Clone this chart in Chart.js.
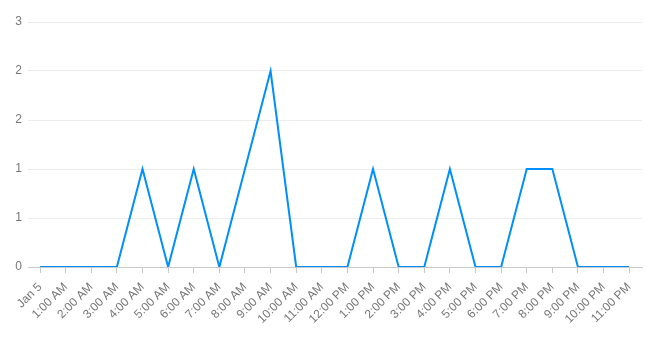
<!DOCTYPE html>
<html>
<head>
<meta charset="utf-8">
<script src="https://cdn.jsdelivr.net/npm/chart.js@4"></script>
<style>
  html, body { margin: 0; padding: 0; background: #fff; }
  #wrap { width: 647px; height: 348px; }
</style>
</head>
<body>
<div id="wrap"><canvas id="myChart"></canvas></div>
<script>
const hours = ['Jan 5', '1:00 AM', '2:00 AM', '3:00 AM', '4:00 AM', '5:00 AM', '6:00 AM', '7:00 AM',
  '8:00 AM', '9:00 AM', '10:00 AM', '11:00 AM', '12:00 PM', '1:00 PM', '2:00 PM', '3:00 PM',
  '4:00 PM', '5:00 PM', '6:00 PM', '7:00 PM', '8:00 PM', '9:00 PM', '10:00 PM', '11:00 PM'];
const counts = [0, 0, 0, 0, 1, 0, 1, 0, 1, 2, 0, 0, 0, 1, 0, 0, 1, 0, 0, 1, 1, 0, 0, 0];
const yTicks = [0, 0.5, 1, 1.5, 2, 2.5];

function renderChart() {
  const ctx = document.getElementById('myChart');
  let points = [];
  for (let i = 0; i < hours.length; i++) {
    points.push({ x: i, y: counts[i] });
  }
  const font = { family: 'Liberation Sans, Arial, sans-serif', size: 12 };
  new Chart(ctx, {
    type: 'line',
    data: {
      datasets: [{
        label: 'Count',
        data: points,
        borderColor: '#008FFB',
        borderWidth: 2,
        pointRadius: 0,
        tension: 0,
        fill: false
      }]
    },
    options: {
      animation: false,
      responsive: true,
      maintainAspectRatio: false,
      layout: { padding: { top: 22, right: 5, bottom: 0, left: 0 } },
      plugins: { legend: { display: false }, tooltip: { enabled: false } },
      scales: {
        x: {
          type: 'linear',
          min: -0.47,
          max: 23.5,
          afterFit: s => { s.height = 81; },
          afterBuildTicks: s => { s.ticks = hours.map((h, i) => ({ value: i })); },
          border: { color: '#c8c8c8' },
          grid: { drawOnChartArea: false, drawTicks: true, tickLength: 6, color: '#c8c8c8' },
          ticks: {
            autoSkip: false,
            maxRotation: 45,
            minRotation: 45,
            padding: 7,
            color: '#777',
            font: font,
            callback: v => hours[v]
          }
        },
        y: {
          min: 0,
          max: 2.5,
          afterFit: s => { s.width = 28; },
          afterBuildTicks: s => { s.ticks = yTicks.map(v => ({ value: v })); },
          border: { display: false },
          grid: { color: '#ececec', drawTicks: false },
          ticks: {
            padding: 6,
            color: '#777',
            font: font,
            callback: v => Math.round(v)
          }
        }
      }
    }
  });
}
renderChart();
</script>
</body>
</html>
